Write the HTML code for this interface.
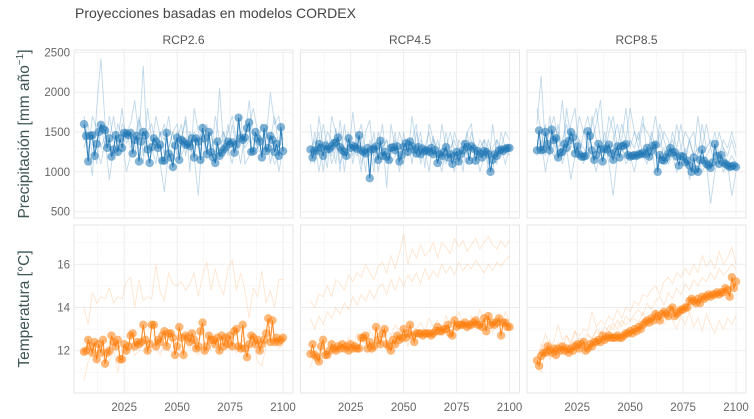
<!DOCTYPE html>
<html><head><meta charset="utf-8">
<style>
body{margin:0;background:#fff;}
svg{display:block;font-family:"Liberation Sans",sans-serif;}
</style></head>
<body>
<svg id="chart" width="754" height="419" viewBox="0 0 754 419">
<text x="75" y="18" font-size="14" fill="#444">Proyecciones basadas en modelos CORDEX</text>
<g id="g"></g>
</svg>
<script>
const scenarios = ["RCP2.6","RCP4.5","RCP8.5"];
const firstYear = 2006;
const xTicks = [2025,2050,2075,2100];
const precipTicks = [500,1000,1500,2000,2500];
const tempTicks = [12,14,16];

const precipMean26 = [1600,1450,1130,1450,1460,1200,1350,1500,1590,1540,1520,1300,1420,1190,1280,1460,1250,1420,1300,1490,1480,1460,1490,1230,1400,1450,1130,1380,1500,1460,1280,1110,1310,1420,1380,1300,1340,1140,1140,1490,1230,1180,1060,1330,1430,1150,1400,1380,1340,1350,1320,1420,1180,1420,1380,1150,1550,1420,1220,1500,1250,1180,1110,1380,1200,1240,1280,1310,1380,1350,1370,1240,1340,1680,1420,1400,1430,1550,1620,1250,1260,1500,1420,1380,1180,1550,1260,1300,1450,1400,1250,1350,1200,1560,1260];
const precipMean45 = [1280,1180,1270,1260,1350,1300,1200,1330,1280,1290,1320,1360,1370,1430,1310,1270,1250,1200,1420,1300,1330,1310,1290,1460,1270,1250,1230,1300,920,1280,1290,1320,1150,1390,1200,1250,1190,1150,1300,1310,1270,1320,1130,1210,1310,1360,1250,1380,1320,1280,1230,1310,1220,1290,1260,1270,1250,1300,1220,1270,1110,1220,1200,1250,1310,1180,1220,1100,1200,1250,1130,1220,1270,1350,1310,1140,1320,1290,1140,1260,1230,1180,1260,1250,1220,1000,1150,1220,1200,1270,1280,1260,1290,1300,1300];
const precipMean85 = [1270,1520,1270,1280,1500,1350,1270,1530,1400,1420,1180,1240,1250,1350,1300,1390,1500,1430,1230,1320,1220,1190,1190,1200,1510,1450,1270,1150,1210,1350,1280,1130,1290,1280,1340,1230,1150,1250,1320,1180,1320,1330,1350,1210,1190,1200,1210,1200,1220,1220,1240,1220,1300,1190,1260,1330,1340,1000,1210,1150,1140,1180,1230,1300,1240,1250,1190,1080,1200,1190,1120,1140,1080,1000,1180,1030,1000,1150,1280,1140,1100,1080,1050,1120,1350,1200,1100,1210,1120,1100,1080,1060,1070,1080,1060];
const tempMean26 = [11.95,12.0,12.5,12.2,11.9,12.4,11.6,12.3,11.9,12.5,11.4,11.9,12.0,12.7,12.4,12.2,12.5,11.6,11.6,12.3,12.0,12.2,12.7,12.8,12.2,12.4,12.3,12.4,13.2,12.5,12.0,12.3,13.2,13.2,12.2,12.5,12.4,12.7,12.9,12.2,12.8,12.8,12.6,11.8,12.2,13.1,12.6,11.8,12.7,12.6,12.4,12.8,12.5,12.1,12.2,12.9,13.3,12.0,12.2,12.7,12.5,12.5,12.3,12.6,12.0,12.7,12.2,12.6,12.3,12.7,12.2,12.9,13.0,12.2,12.1,13.2,12.1,11.7,12.3,12.7,12.6,12.3,12.5,12.0,12.3,12.5,12.8,13.5,12.4,13.4,12.4,12.6,12.4,12.5,12.6];
const tempMean45 = [11.85,12.3,11.8,11.7,11.5,12.2,12.5,11.8,11.8,12.0,12.3,12.1,12.0,12.2,12.1,12.3,12.1,12.2,12.0,12.3,12.1,12.2,12.1,12.1,12.6,12.6,12.7,12.1,12.4,12.1,12.2,13.1,12.5,12.3,12.8,13.0,12.3,12.2,12.0,12.5,12.3,12.7,12.5,12.6,13.0,12.6,12.8,13.2,12.7,12.4,12.8,12.8,12.8,12.7,12.8,12.8,12.8,12.7,12.8,12.9,13.1,12.9,12.9,13.0,13.0,13.2,12.8,12.7,13.4,13.1,13.2,13.2,13.2,13.3,13.1,13.2,13.2,13.3,13.4,13.2,13.2,13.1,13.5,12.9,13.6,13.2,13.3,13.2,13.3,13.5,12.7,13.3,13.3,13.1,13.1];
const tempMean85 = [11.55,11.3,11.75,11.9,11.9,12.2,12.0,11.9,12.1,11.8,12.1,12.0,12.2,12.0,12.1,11.9,12.1,12.0,12.2,12.3,12.1,12.3,12.4,12.0,12.1,12.3,12.2,12.4,12.4,12.5,12.4,12.7,12.5,12.6,12.7,12.6,12.6,12.6,12.7,12.6,12.6,12.7,12.8,12.8,12.9,12.8,13.0,12.9,13.1,13.0,13.2,13.3,13.4,13.3,13.5,13.4,13.7,13.6,13.4,13.7,13.8,13.7,13.6,13.9,14.0,13.6,13.7,13.8,13.9,13.9,14.0,14.0,14.3,14.4,14.3,14.2,14.4,14.2,14.5,14.4,14.5,14.6,14.5,14.6,14.6,14.7,14.6,14.7,14.7,14.9,14.8,14.5,15.4,14.9,15.2];

/* ensemble members sampled every 2 years (2006..2100) */
const precipMembers26 = [
[1700,1300,950,1800,2420,1600,1400,1700,1300,1250,1500,1600,1900,1400,2330,1200,1300,1700,1450,1600,1200,1100,1500,1400,1650,1000,1800,1500,1400,1300,1500,1200,2050,1300,1500,1700,1400,1100,1500,1600,1800,1500,1200,1400,2000,1600,1700,1400],
[1400,1600,1200,1300,1100,1400,900,1300,1600,1450,1000,1200,1500,1300,1100,1800,1400,1300,1100,750,1300,1500,1600,1200,1350,1300,1200,700,1500,1400,1500,1100,1300,1250,1600,1300,1400,1700,1100,1200,1500,1300,1200,1600,1100,1400,1000,1300],
[1500,1200,1700,1550,1300,1450,1300,1200,1400,1800,1350,1500,1200,1650,1500,1400,1300,1100,1500,1200,1300,1500,1200,1400,1700,1300,1500,1400,1100,1600,1300,1400,1200,1500,1300,1100,1450,1500,1300,1400,1250,1300,1400,1500,1300,1100,1200,1300],
[1300,1500,1400,1100,1600,1300,1700,1400,1200,1600,1500,1300,1400,1700,1200,1500,1600,1300,1500,1400,1700,1300,1400,1600,1200,1500,1400,1300,1600,1500,1200,1700,1400,1500,1200,1600,1300,1500,1400,1900,1400,1300,1600,1500,1400,1700,1300,1500]];
const precipMembers45 = [
[1600,1100,1700,1300,1050,1700,1500,1000,1600,1200,1750,1300,1000,1500,1650,1100,1200,1400,800,1600,1300,1100,1500,1200,1700,1300,1500,1050,1600,1400,1100,1600,1300,1200,1500,1300,1000,1500,1600,1100,1300,1400,1000,1600,1200,1300,1500,1400],
[1100,1500,1200,1600,1300,1200,1550,1100,1300,1500,1100,1400,1600,1200,1300,1000,1500,1300,1400,1100,1200,1500,1300,1200,1400,1600,1100,1300,1200,1450,1200,1000,1300,1500,1250,1100,1400,1200,1500,1300,1000,1200,1400,1200,1100,1500,1300,1350],
[1300,1400,1000,1300,1500,1400,1100,1650,1200,1400,1300,1200,1450,1000,1400,1200,1300,1600,1100,1300,1400,1200,1100,1400,1300,1200,1400,1300,1500,1200,1400,1200,1100,1300,1400,1200,1300,1100,1400,1200,1400,1300,1100,1300,1400,1200,1300,1200],
[1200,1300,1500,1000,1400,1100,1300,1500,1000,1400,1200,1500,1100,1300,1200,1500,1000,1300,1400,1200,1500,1000,1300,1400,1100,1500,1200,1300,1000,1400,1300,1100,1500,1200,1000,1400,1300,1500,1100,1300,1200,1400,1300,1000,1400,1300,1100,1300]];
const precipMembers85 = [
[1600,2200,1300,1500,1700,1400,1900,1300,1600,1800,1200,1500,1700,1400,1600,1900,1200,1500,1700,1300,1600,1400,1800,1500,1300,1600,1500,1400,1700,1300,1500,1400,1200,1600,1300,1500,1400,1200,1700,1300,1600,1300,1500,1200,1400,1300,1500,1300],
[1200,1400,1000,1300,1200,1500,1100,1300,900,1200,1400,1100,1300,1200,1000,1300,1400,1100,700,1200,1300,1100,1200,1000,1300,1200,1100,1300,1000,1200,1300,1100,1200,1000,1100,1300,900,1100,1200,1000,1100,600,1000,1200,1000,1100,700,1000],
[1400,1300,1600,1200,1500,1300,1400,1600,1300,1500,1400,1300,1200,1700,1400,1300,1500,1200,1400,1600,1300,1200,1400,1300,1500,1200,1300,1400,1200,1500,1100,1300,1400,1200,1300,1100,1400,1200,1300,1100,1200,1300,1100,1200,1300,1100,1200,1100],
[1800,1500,1200,1700,1300,1600,1200,1800,1400,1300,1700,1500,1300,1600,1800,1400,1300,1700,1500,1200,1400,1800,1300,1500,1400,1700,1200,1500,1300,1600,1400,1200,1500,1300,1600,1200,1400,1500,1200,1600,1300,1400,1200,1500,1300,1200,1400,1200]];
const tempMembers26 = [
[14.0,13.2,14.7,14.2,14.5,14.4,14.9,14.2,14.5,14.4,15.2,15.4,14.0,15.3,14.3,14.5,14.4,16.0,14.7,14.3,15.6,15.1,15.0,15.2,14.8,15.1,15.6,14.5,15.5,16.1,14.8,15.8,15.0,14.6,15.8,16.2,14.8,15.6,14.8,13.5,14.9,14.5,15.7,14.2,14.8,14.0,15.3,15.3],
[10.6,11.5,12.0,11.5,12.3,11.2,11.5,12.0,11.0,12.2,11.8,12.4,11.8,12.0,12.3,11.9,12.5,12.1,11.8,12.3,12.0,12.6,12.2,11.9,12.4,12.1,12.6,11.8,12.3,12.5,12.0,12.4,11.9,12.6,12.2,12.5,11.9,12.3,12.6,12.0,12.4,11.5,11.3,12.2,12.6,12.4,12.1,12.3]];
const tempMembers45 = [
[14.3,14.0,14.6,14.5,15.0,14.5,15.3,15.1,14.8,15.5,15.2,15.6,15.4,16.0,15.6,15.3,15.9,16.1,15.6,16.4,15.8,16.5,17.4,16.0,16.7,16.3,16.9,16.4,16.6,17.0,16.3,17.0,16.8,16.5,17.2,16.8,17.1,16.6,16.9,17.2,16.7,17.0,17.3,16.9,16.7,17.1,16.8,17.1],
[13.5,13.0,13.6,13.2,13.8,13.5,14.0,13.7,14.2,13.9,14.5,14.1,14.6,14.3,14.8,14.4,14.9,15.1,14.6,15.3,14.8,15.4,15.0,15.5,15.2,15.6,15.1,15.8,15.3,15.7,15.4,16.0,15.6,15.9,15.5,16.1,15.7,16.0,15.8,16.2,15.9,15.6,16.0,15.7,16.1,15.9,16.2,16.4],
[11.2,12.0,11.5,12.3,11.8,12.1,11.9,12.4,12.2,12.6,12.0,12.8,12.5,12.3,12.9,12.6,12.8,12.4,13.0,12.7,13.2,12.9,12.8,12.2,13.1,13.0,13.3,12.9,13.5,13.1,13.4,13.0,13.6,13.2,13.5,13.8,13.3,12.9,13.6,13.2,13.9,13.4,13.7,12.8,13.5,13.2,13.8,13.4]];
const tempMembers85 = [
[11.8,12.0,12.8,12.2,12.4,13.2,12.5,12.7,12.4,12.9,12.7,13.0,12.9,13.8,13.1,13.4,13.2,13.6,13.4,13.9,13.5,14.0,13.8,14.3,14.1,14.6,14.5,14.8,15.0,14.6,15.2,15.4,15.1,15.6,15.4,15.8,15.5,16.0,15.6,16.4,15.9,16.2,15.8,16.6,16.0,16.3,16.8,16.0],
[11.2,11.0,12.2,11.6,11.9,12.0,12.3,12.1,12.4,12.2,12.6,12.4,12.7,12.6,12.9,12.8,13.1,12.9,13.3,13.0,13.4,13.2,13.4,13.5,13.3,13.8,13.4,13.6,13.9,13.5,13.2,13.8,13.4,13.0,13.6,13.2,13.8,13.1,13.5,12.9,13.7,13.2,12.8,13.4,13.0,13.5,13.2,13.6],
[11.6,12.3,11.8,12.5,12.0,12.4,12.1,12.7,12.2,12.9,12.4,12.6,12.8,12.5,13.0,12.9,12.7,13.2,13.0,13.4,13.1,13.6,13.4,13.7,13.9,13.6,14.2,13.9,14.3,14.5,14.1,14.7,14.4,14.9,14.6,15.1,14.8,15.3,15.0,15.4,15.2,15.6,15.3,15.8,15.5,15.7,16.0,15.8]];

const ns = "http://www.w3.org/2000/svg";
const root = document.getElementById('g');
const colX0 = [74, 300.5, 527], panelW = 219;
const rows = [{top:50,bot:218,lo:421,hi:2529,col:"#1f77b4",ticks:precipTicks,
  means:[precipMean26,precipMean45,precipMean85],members:[precipMembers26,precipMembers45,precipMembers85],name:"precipitation"},
 {top:225,bot:393,lo:10.04,hi:17.82,col:"#ff7f0e",ticks:tempTicks,
  means:[tempMean26,tempMean45,tempMean85],members:[tempMembers26,tempMembers45,tempMembers85],name:"temperature"}];
const yrLo = 2001.3, yrHi = 2104.7;

function mk(tag, attrs, parent){const e=document.createElementNS(ns,tag);for(const k in attrs)e.setAttribute(k,attrs[k]);(parent||root).appendChild(e);return e;}

rows.forEach((r,ri)=>{
  const y = v => r.bot - (v - r.lo)/(r.hi - r.lo)*(r.bot - r.top);
  scenarios.forEach((s,ci)=>{
    const x0 = colX0[ci];
    const x = yr => x0 + (yr - yrLo)/(yrHi - yrLo)*panelW;
    const g = mk('g',{});
    
    
    mk('rect',{x:x0,y:r.top,width:panelW,height:r.bot-r.top,fill:"#fff",stroke:"#e6e6e6","stroke-width":1},g);
    for(let i=0;i<r.ticks.length-1;i++){
      const m=(r.ticks[i]+r.ticks[i+1])/2;
      mk('line',{x1:x0,x2:x0+panelW,y1:y(m),y2:y(m),stroke:"#f3f3f3","stroke-width":0.6},g);
    }
    [r.ticks[0]-(r.ticks[1]-r.ticks[0])/2, r.ticks[r.ticks.length-1]+(r.ticks[1]-r.ticks[0])/2].forEach(m=>{
      if(y(m)>r.top && y(m)<r.bot) mk('line',{x1:x0,x2:x0+panelW,y1:y(m),y2:y(m),stroke:"#f3f3f3","stroke-width":0.6},g);});
    [2012.5,2037.5,2062.5,2087.5].forEach(m=>mk('line',{x1:x(m),x2:x(m),y1:r.top,y2:r.bot,stroke:"#f3f3f3","stroke-width":0.6},g));
    r.ticks.forEach(t=>mk('line',{x1:x0,x2:x0+panelW,y1:y(t),y2:y(t),stroke:"#ebebeb","stroke-width":0.9},g));
    xTicks.forEach(t=>mk('line',{x1:x(t),x2:x(t),y1:r.top,y2:r.bot,stroke:"#ebebeb","stroke-width":0.9},g));
    r.members[ci].forEach((m,mi)=>{
      const p = mk('polyline',{points:m.map((v,i)=>x(firstYear+2*i)+','+y(v)).join(' '),fill:"none",stroke:r.col,"stroke-opacity":ri==0?0.28:0.2,"stroke-width":0.9},g);
      
      
    });
    const mean = r.means[ci];
    const line = mk('polyline',{points:mean.map((v,i)=>x(firstYear+i)+','+y(v)).join(' '),fill:"none",stroke:r.col,"stroke-width":1.1,"stroke-opacity":0.9},g);
    
    
    mean.forEach((v,i)=>{
      const c = mk('circle',{cx:x(firstYear+i),cy:y(v),r:4.2,fill:r.col,"fill-opacity":0.55},g);
      
      
    });
    if(ri==0){
      const t = mk('text',{x:x0+panelW/2,y:44,"text-anchor":"middle","font-size":12,fill:"#555"},g);
      t.textContent = s;
      
      
    }
    if(ci==0){
      r.ticks.forEach(tv=>{
        const t = mk('text',{x:x0-4,y:y(tv)+4,"text-anchor":"end","font-size":11.5,fill:"#666"},g);
        t.textContent = tv;
        
        
      });
    }
    if(ri==1){
      xTicks.forEach(tv=>{
        const t = mk('text',{x:x(tv),y:411,"text-anchor":"middle","font-size":11.5,fill:"#666"},g);
        t.textContent = tv;
        
        
      });
    }
  });
});
const t1 = mk('text',{transform:"translate(29,134) rotate(-90)","text-anchor":"middle","font-size":15.5,fill:"#3e5555"});
t1.innerHTML = 'Precipitación [mm  año<tspan dy="-6" font-size="10">−1</tspan><tspan dy="6">]</tspan>';


const t2 = mk('text',{transform:"translate(29,309) rotate(-90)","text-anchor":"middle","font-size":15.5,fill:"#3e5555"});
t2.textContent = 'Temperatura [°C]';


</script>
</body></html>
